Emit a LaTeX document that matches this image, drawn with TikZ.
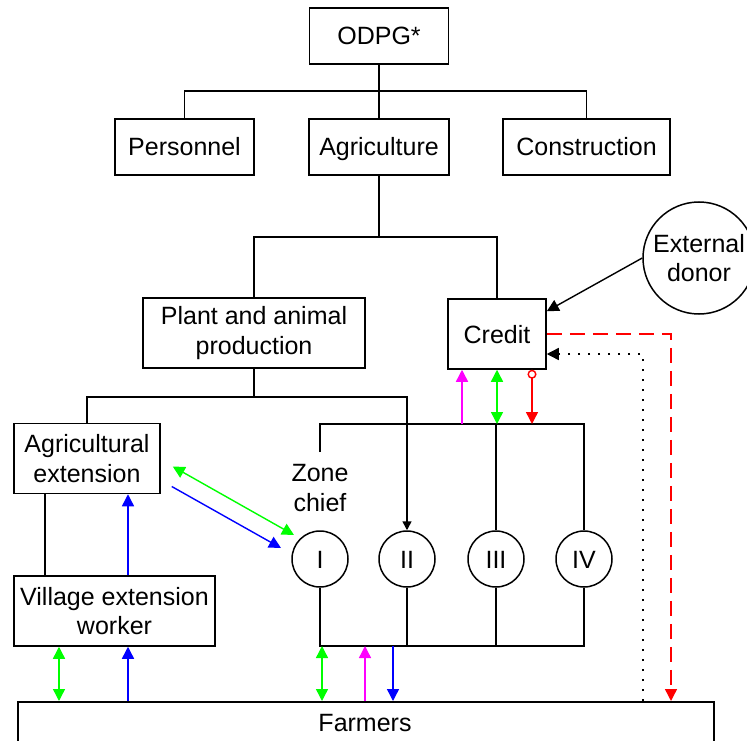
\documentclass[tikz,border=0pt]{standalone}
\usepackage{fontspec}
\setmainfont{Liberation Sans}
\usetikzlibrary{arrows.meta}
\definecolor{flowgreen}{RGB}{0,255,0}
\definecolor{flowblue}{RGB}{0,0,255}
\definecolor{flowmagenta}{RGB}{255,0,255}
\definecolor{flowred}{RGB}{255,0,0}
\begin{document}
\begin{tikzpicture}[x=1pt,y=-1pt,line width=1.5pt,
  font=\fontsize{25}{29.5}\selectfont,
  box/.style={draw,align=center,inner sep=0pt},
  single/.style={text height=18pt,text depth=0pt},
  zone/.style={draw,circle,minimum size=56pt,inner sep=0pt,text height=18pt,text depth=0pt},
  link/.style={line width=1.5pt},
  flow/.style={line width=1.4pt},
  tip/.style={-{Triangle[length=12pt,width=12pt]}},
  tiptwo/.style={{Triangle[length=12pt,width=12pt]}-{Triangle[length=12pt,width=12pt]}},
  smalltip/.style={-{Triangle[length=9pt,width=9pt]}}]
\useasboundingbox (0,0) rectangle (747,741);

% organisation boxes
\node[box,single,minimum width=139pt,minimum height=56pt] (odpg) at (379,36) {ODPG*};
\node[box,single,minimum width=139pt,minimum height=56pt] (pers) at (184.5,147) {Personnel};
\node[box,single,minimum width=140pt,minimum height=56pt] (agri) at (379,147) {Agriculture};
\node[box,single,minimum width=167pt,minimum height=56pt] (cons) at (586.5,147) {Construction};
\node[box,minimum width=222pt,minimum height=70pt] (plant) at (254,333) {Plant and animal\\production};
\node[box,single,minimum width=98pt,minimum height=70pt] (credit) at (497,334) {Credit};
\node[draw,circle,minimum size=112pt,inner sep=0pt,align=center] (donor) at (699,258) {External\\donor};
\node[box,minimum width=146pt,minimum height=70pt] (ext) at (87,458.5) {Agricultural\\extension};
\node[box,minimum width=201pt,minimum height=70pt] (vew) at (114.5,611) {Village extension\\worker};
\node[draw,minimum width=696pt,minimum height=80pt,anchor=north west] (farm) at (17,701) {};
\node[single] (farmtxt) at (365,722) {Farmers};

% zones
\node[zone] (zI) at (320,559) {I};
\node[zone] (zII) at (407,559) {II};
\node[zone] (zIII) at (496,559) {III};
\node[zone] (zIV) at (584,559) {IV};
\node[align=center] (zc) at (320,488) {Zone\\chief};

% junction points and columns
\coordinate (top) at (379,91);
\coordinate (mid) at (379,237);
\coordinate (split) at (254,397);
\coordinate (busT) at (320,424);
\coordinate (stub) at (320,452);
\coordinate (busB) at (320,646);
\coordinate (colK) at (45,0);
\coordinate (colG) at (59,0);
\coordinate (colB) at (128,0);
\coordinate (colZg) at (322,0);
\coordinate (colZm) at (365,0);
\coordinate (colZb) at (393,0);
\coordinate (colCm) at (462,0);
\coordinate (colCr) at (532,0);
\coordinate (colDot) at (643,0);
\coordinate (colDash) at (671,0);

% hierarchy
\draw[link] (odpg.south) -- (top);
\draw[link] (pers.north) -- (pers.north |- top) -- (cons.north |- top) -- (cons.north);
\draw[link] (top) -- (agri.north);
\draw[link] (agri.south) -- (mid);
\draw[link] (plant.north) -- (plant.north |- mid) -- (credit.north |- mid) -- (credit.north);
\draw[link] (plant.south) -- (split);
\draw[link] (ext.north) -- (ext.north |- split) -- (split);
\draw[link,smalltip] (split) -- (split -| zII) -- (zII.north);

% zone buses
\draw[link] (stub) -- (busT) -- (busT -| zIV) -- (zIV.north);
\draw[link] (busT -| zIII) -- (zIII.north);
\draw[link] (zI.south) -- (zI.south |- busB) -- (zIV.south |- busB) -- (zIV.south);
\draw[link] (zII.south) -- (zII.south |- busB);
\draw[link] (zIII.south) -- (zIII.south |- busB);

% extension chain
\draw[link] (ext.south -| colK) -- (vew.north -| colK);
\draw[flow,flowblue,tip] (vew.north -| colB) -- (ext.south -| colB);
\draw[flow,flowgreen,tiptwo] (vew.south -| colG) -- (farm.north -| colG);
\draw[flow,flowblue,tip] (farm.north -| colB) -- (vew.south -| colB);
\draw[flow,flowgreen,tiptwo] ([shift={(12,8)}]ext.east) -- ([shift={(-26,-24)}]zI.center);
\draw[flow,flowblue,tip] ([shift={(11,28)}]ext.east) -- ([shift={(-39,-11)}]zI.center);

% zones to farmers
\draw[flow,flowgreen,tiptwo] (busB -| colZg) -- (farm.north -| colZg);
\draw[flow,flowmagenta,tip] (farm.north -| colZm) -- (busB -| colZm);
\draw[flow,flowblue,tip] (busB -| colZb) -- (farm.north -| colZb);

% credit flows
\draw[flow,flowmagenta,tip] (busT -| colCm) -- (credit.south -| colCm);
\draw[flow,flowgreen,tiptwo] (credit.south) -- (busT -| credit.south);
\draw[flow,flowred,{Circle[open,length=9pt,width=9pt]}-{Triangle[length=12pt,width=12pt]}] (credit.south -| colCr) -- (busT -| colCr);
\draw[flow,tip] (donor.west) -- ([yshift=-13pt]credit.north east);
\draw[flow,draw=flowred,dash pattern=on 15pt off 8pt,tip] (credit.east) -- (credit.east -| colDash) -- (farm.north -| colDash);
\draw[flow,dash pattern=on 2pt off 8pt,tip] (farm.north -| colDot) -- ([yshift=-20pt]credit.east -| colDot) -- ([yshift=-20pt]credit.east);
\end{tikzpicture}
\end{document}
